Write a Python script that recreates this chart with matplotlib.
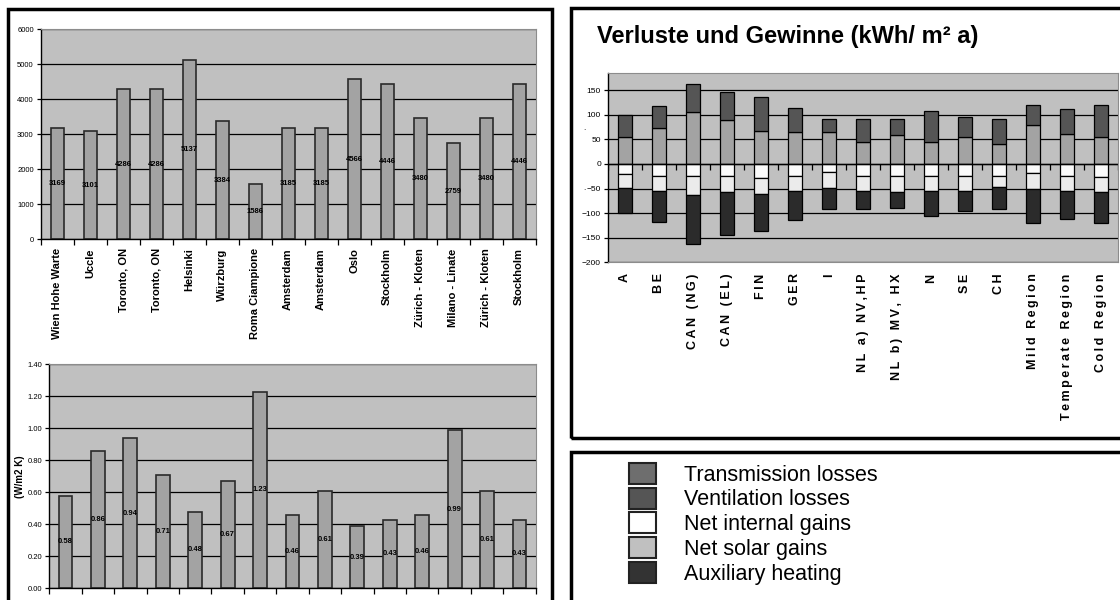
import numpy as np
import matplotlib
matplotlib.use("Agg")
import matplotlib.pyplot as plt
from matplotlib.patches import Rectangle, Patch

plt.rcParams['font.family'] = ['Liberation Sans', 'DejaVu Sans']

# ---- data ----
stations = ['Wien Hohe Warte', 'Uccle', 'Toronto, ON', 'Toronto, ON', 'Helsinki',
            'Würzburg', 'Roma Ciampione', 'Amsterdam', 'Amsterdam', 'Oslo',
            'Stockholm', 'Zürich - Kloten', 'Milano - Linate', 'Zürich - Kloten', 'Stockholm']
degree_days = [3169, 3101, 4286, 4286, 5137, 3384, 1586, 3185, 3185, 4566,
               4446, 3480, 2759, 3480, 4446]
u_values = [0.58, 0.86, 0.94, 0.71, 0.48, 0.67, 1.23, 0.46, 0.61, 0.39,
            0.43, 0.46, 0.99, 0.61, 0.43]

regions = ['A', 'BE', 'CAN (NG)', 'CAN (EL)', 'FIN', 'GER', 'I', 'NL a) NV,HP',
           'NL b) MV, HX', 'N', 'SE', 'CH', 'Mild Region', 'Temperate Region', 'Cold Region']
transmission = [54, 74, 105, 89, 67, 65, 65, 44, 58, 45, 55, 41, 80, 60, 55]
ventilation = [46, 44, 58, 57, 70, 49, 27, 47, 33, 62, 40, 51, 40, 51, 65]
internal = [21, 24, 24, 24, 29, 24, 17, 24, 24, 24, 24, 24, 19, 24, 27]
solar = [27, 31, 39, 34, 32, 31, 32, 31, 33, 31, 30, 23, 32, 30, 30]
auxiliary = [52, 63, 100, 87, 76, 58, 42, 36, 33, 50, 41, 44, 69, 57, 63]

legend_labels = ['Transmission losses', 'Ventilation losses', 'Net internal gains',
                 'Net solar gains', 'Auxiliary heating']
legend_colors = ['#6e6e6e', '#555555', '#ffffff', '#c0c0c0', '#333333']

W, H = 1120, 600
fig = plt.figure(figsize=(11.2, 6), dpi=100)


def px_axes(x0, y0, x1, y1):
    return fig.add_axes([x0 / W, 1 - y1 / H, (x1 - x0) / W, (y1 - y0) / H])


def px_box(x0, y0, x1, y1, lw=2.5):
    fig.add_artist(Rectangle((x0 / W, 1 - y1 / H), (x1 - x0) / W, (y1 - y0) / H,
                             transform=fig.transFigure, fill=False,
                             edgecolor='black', linewidth=lw))


def excel_axes(ax, n):
    ax.set_facecolor('#c0c0c0')
    ax.set_xlim(-0.5, n - 0.5)
    ax.set_axisbelow(True)
    ax.yaxis.grid(True, color='black', linewidth=0.9)
    for s in ['top', 'right']:
        ax.spines[s].set_color('#8c8c8c')
        ax.spines[s].set_linewidth(0.8)
    for s in ['left', 'bottom']:
        ax.spines[s].set_linewidth(1.0)
    ax.set_xticks(np.arange(-0.5, n), minor=True)
    ax.tick_params(axis='x', which='minor', length=4, width=0.9)
    ax.tick_params(axis='x', which='major', length=0)
    ax.tick_params(axis='y', length=3, width=0.9, labelsize=5.5, pad=2)


def spaced(s):
    # Excel draws these labels with wide letter spacing
    return '\u2009'.join(s)


# ---- boxes ----
px_box(8, 9, 552, 640)
px_box(571, 8, 1140, 438)
px_box(571, 452, 1140, 640)

# ---- top left: degree days ----
n = len(stations)
x = np.arange(n)
ax1 = px_axes(40.7, 29.3, 535.7, 239.3)
excel_axes(ax1, n)
ax1.bar(x, degree_days, width=0.4, color='#a3a3a3', edgecolor='#2a2a2a', linewidth=1.2)
ax1.set_ylim(0, 6000)
ax1.set_yticks(np.arange(0, 6001, 1000))
ax1.set_xticks(x)
ax1.set_xticklabels(stations, rotation=90, fontsize=8, fontweight='bold', va='top')
ax1.tick_params(axis='x', which='major', pad=6.5)
for xi, v in zip(x, degree_days):
    ax1.text(xi, v / 2, str(v), ha='center', va='center', fontsize=5.5, fontweight='bold')

# ---- bottom left: U values ----
ax2 = px_axes(49.3, 364.3, 535.7, 588.3)
excel_axes(ax2, n)
ax2.bar(x, u_values, width=0.43, color='#a3a3a3', edgecolor='#2a2a2a', linewidth=1.2)
ax2.set_ylim(0, 1.4)
ax2.set_yticks(np.arange(0, 1.41, 0.2))
ax2.set_yticklabels([f'{t:.2f}' for t in np.arange(0, 1.41, 0.2)])
ax2.set_xticks(x)
ax2.set_xticklabels([])
ax2.set_ylabel('(W/m2 K)', fontsize=7, fontweight='bold', labelpad=2)
for xi, v in zip(x, u_values):
    ax2.text(xi, v / 2, f'{v:.2f}', ha='center', va='center', fontsize=5.5, fontweight='bold')

# ---- right: losses and gains ----
m = len(regions)
xr = np.arange(m)
ax3 = px_axes(608, 73, 1118, 262.3)
excel_axes(ax3, m)
ax3.tick_params(axis='x', which='minor', length=0)
ax3.spines['bottom'].set_color('#8c8c8c')
ax3.spines['bottom'].set_linewidth(0.8)
tr = np.array(transmission)
ve = np.array(ventilation)
ig = np.array(internal)
sg = np.array(solar)
ah = np.array(auxiliary)
ek = dict(edgecolor='black', linewidth=0.9, width=0.4)
ax3.bar(xr, tr, color='#a3a3a3', **ek)
ax3.bar(xr, ve, bottom=tr, color='#555555', **ek)
ax3.bar(xr, -ig, color='#fafafa', **ek)
ax3.bar(xr, -sg, bottom=-ig, color='#ebebeb', **ek)
ax3.bar(xr, -ah, bottom=-(ig + sg), color='#2b2b2b', **ek)
ax3.axhline(0, color='black', linewidth=1.0, zorder=1)
ax3.vlines(np.arange(-0.5, m), -12, 0, color='black', linewidth=0.9, zorder=1)
ax3.set_ylim(-200, 185)
ax3.set_yticks(np.arange(-200, 151, 50))
ax3.tick_params(axis='y', labelsize=6)
ax3.set_xticks(xr)
ax3.set_xticklabels([spaced(r) for r in regions], rotation=90, fontsize=9,
                    fontweight='bold', va='top')
ax3.tick_params(axis='x', which='major', pad=8)

fig.text(584 / W, 1 - 129 / H, '.', fontsize=6, ha='center', va='center')
fig.text(584 / W, 1 - 188 / H, '.', fontsize=6, ha='center', va='center')

fig.text(597 / W, 1 - 36 / H, 'Verluste und Gewinne (kWh/ m² a)', fontsize=17,
         fontweight='bold', ha='left', va='center')

# ---- legend ----
handles = [Patch(facecolor=c, edgecolor='#222222', linewidth=1.5) for c in legend_colors]
fs = 15.5
em = fs * 100 / 72
fig.legend(handles, legend_labels, loc='upper left',
           bbox_to_anchor=(629 / W, 1 - 463 / H), frameon=False, fontsize=fs,
           borderpad=0, borderaxespad=0, handlelength=27 / em, handleheight=24 / em,
           labelspacing=2 / em, handletextpad=28 / em)

fig.savefig('out.png', dpi=100)
